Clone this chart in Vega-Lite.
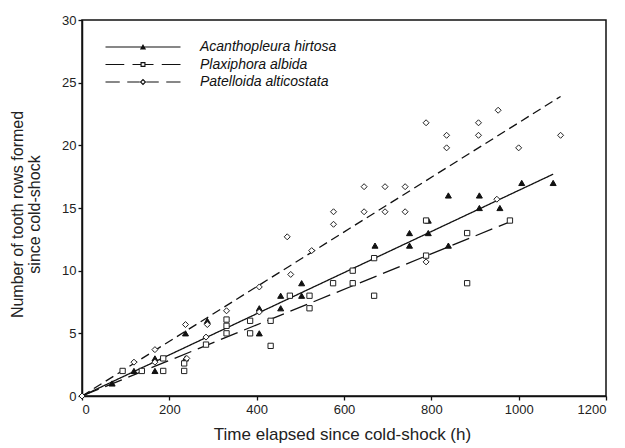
{
  "$schema": "https://vega.github.io/schema/vega-lite/v6.json",
  "width": 524,
  "height": 376,
  "autosize": {"type": "none"},
  "padding": {"left": 82, "top": 20, "right": 19, "bottom": 52},
  "background": "white",
  "config": {
    "font": "Liberation Sans",
    "view": {"stroke": "#111", "strokeWidth": 1.5},
    "axis": {
      "grid": false,
      "domainColor": "#111",
      "domainWidth": 1.5,
      "tickColor": "#111",
      "tickWidth": 1.3,
      "tickSize": 4,
      "labelFont": "Liberation Sans",
      "labelFontSize": 13,
      "labelColor": "#222",
      "titleFont": "Liberation Sans",
      "titleFontSize": 16,
      "titleFontWeight": "normal",
      "titleColor": "#222"
    }
  },
  "datasets": {
    "points": [
      {"species": "Acanthopleura hirtosa", "t": 69, "rows": 1},
      {"species": "Acanthopleura hirtosa", "t": 119, "rows": 2},
      {"species": "Acanthopleura hirtosa", "t": 167, "rows": 2},
      {"species": "Acanthopleura hirtosa", "t": 167, "rows": 3},
      {"species": "Acanthopleura hirtosa", "t": 237, "rows": 3},
      {"species": "Acanthopleura hirtosa", "t": 237, "rows": 5},
      {"species": "Acanthopleura hirtosa", "t": 287, "rows": 6},
      {"species": "Acanthopleura hirtosa", "t": 406, "rows": 5},
      {"species": "Acanthopleura hirtosa", "t": 406, "rows": 7},
      {"species": "Acanthopleura hirtosa", "t": 455, "rows": 7},
      {"species": "Acanthopleura hirtosa", "t": 455, "rows": 8},
      {"species": "Acanthopleura hirtosa", "t": 503, "rows": 8},
      {"species": "Acanthopleura hirtosa", "t": 503, "rows": 9},
      {"species": "Acanthopleura hirtosa", "t": 671, "rows": 12},
      {"species": "Acanthopleura hirtosa", "t": 750, "rows": 12},
      {"species": "Acanthopleura hirtosa", "t": 750, "rows": 13},
      {"species": "Acanthopleura hirtosa", "t": 793, "rows": 13},
      {"species": "Acanthopleura hirtosa", "t": 793, "rows": 14},
      {"species": "Acanthopleura hirtosa", "t": 839, "rows": 12},
      {"species": "Acanthopleura hirtosa", "t": 839, "rows": 16},
      {"species": "Acanthopleura hirtosa", "t": 910, "rows": 15},
      {"species": "Acanthopleura hirtosa", "t": 910, "rows": 16},
      {"species": "Acanthopleura hirtosa", "t": 957, "rows": 15},
      {"species": "Acanthopleura hirtosa", "t": 1007, "rows": 17},
      {"species": "Acanthopleura hirtosa", "t": 1079, "rows": 17},
      {"species": "Plaxiphora albida", "t": 93, "rows": 2},
      {"species": "Plaxiphora albida", "t": 137, "rows": 2},
      {"species": "Plaxiphora albida", "t": 186, "rows": 2},
      {"species": "Plaxiphora albida", "t": 186, "rows": 3},
      {"species": "Plaxiphora albida", "t": 234, "rows": 2},
      {"species": "Plaxiphora albida", "t": 234, "rows": 2.6},
      {"species": "Plaxiphora albida", "t": 284, "rows": 4.1},
      {"species": "Plaxiphora albida", "t": 331, "rows": 6.1},
      {"species": "Plaxiphora albida", "t": 331, "rows": 5.6},
      {"species": "Plaxiphora albida", "t": 331, "rows": 5},
      {"species": "Plaxiphora albida", "t": 385, "rows": 6},
      {"species": "Plaxiphora albida", "t": 385, "rows": 5},
      {"species": "Plaxiphora albida", "t": 432, "rows": 6},
      {"species": "Plaxiphora albida", "t": 432, "rows": 4},
      {"species": "Plaxiphora albida", "t": 476, "rows": 8},
      {"species": "Plaxiphora albida", "t": 521, "rows": 8},
      {"species": "Plaxiphora albida", "t": 521, "rows": 7},
      {"species": "Plaxiphora albida", "t": 575, "rows": 9},
      {"species": "Plaxiphora albida", "t": 620, "rows": 9},
      {"species": "Plaxiphora albida", "t": 620, "rows": 10},
      {"species": "Plaxiphora albida", "t": 669, "rows": 11},
      {"species": "Plaxiphora albida", "t": 669, "rows": 8},
      {"species": "Plaxiphora albida", "t": 788, "rows": 14},
      {"species": "Plaxiphora albida", "t": 788, "rows": 11.2},
      {"species": "Plaxiphora albida", "t": 882, "rows": 13},
      {"species": "Plaxiphora albida", "t": 882, "rows": 9},
      {"species": "Plaxiphora albida", "t": 980, "rows": 14},
      {"species": "Patelloida alticostata", "t": 0, "rows": 0},
      {"species": "Patelloida alticostata", "t": 119, "rows": 2.7},
      {"species": "Patelloida alticostata", "t": 167, "rows": 3.7},
      {"species": "Patelloida alticostata", "t": 167, "rows": 2.7},
      {"species": "Patelloida alticostata", "t": 237, "rows": 5.7},
      {"species": "Patelloida alticostata", "t": 240, "rows": 3},
      {"species": "Patelloida alticostata", "t": 287, "rows": 5.7},
      {"species": "Patelloida alticostata", "t": 284, "rows": 4.7},
      {"species": "Patelloida alticostata", "t": 331, "rows": 6.8},
      {"species": "Patelloida alticostata", "t": 406, "rows": 8.7},
      {"species": "Patelloida alticostata", "t": 406, "rows": 6.7},
      {"species": "Patelloida alticostata", "t": 470, "rows": 12.7},
      {"species": "Patelloida alticostata", "t": 478, "rows": 9.7},
      {"species": "Patelloida alticostata", "t": 526, "rows": 11.6},
      {"species": "Patelloida alticostata", "t": 576, "rows": 13.7},
      {"species": "Patelloida alticostata", "t": 576, "rows": 14.7},
      {"species": "Patelloida alticostata", "t": 646, "rows": 16.7},
      {"species": "Patelloida alticostata", "t": 646, "rows": 14.7},
      {"species": "Patelloida alticostata", "t": 694, "rows": 16.7},
      {"species": "Patelloida alticostata", "t": 694, "rows": 14.7},
      {"species": "Patelloida alticostata", "t": 740, "rows": 16.7},
      {"species": "Patelloida alticostata", "t": 740, "rows": 14.7},
      {"species": "Patelloida alticostata", "t": 788, "rows": 21.8},
      {"species": "Patelloida alticostata", "t": 788, "rows": 10.7},
      {"species": "Patelloida alticostata", "t": 835, "rows": 20.8},
      {"species": "Patelloida alticostata", "t": 835, "rows": 19.8},
      {"species": "Patelloida alticostata", "t": 908, "rows": 21.8},
      {"species": "Patelloida alticostata", "t": 908, "rows": 20.8},
      {"species": "Patelloida alticostata", "t": 953, "rows": 22.8},
      {"species": "Patelloida alticostata", "t": 950, "rows": 15.7},
      {"species": "Patelloida alticostata", "t": 1000, "rows": 19.8},
      {"species": "Patelloida alticostata", "t": 1096, "rows": 20.8}
    ],
    "fits": [
      {"species": "Acanthopleura hirtosa", "t": 0, "rows": 0},
      {"species": "Acanthopleura hirtosa", "t": 1079, "rows": 17.7},
      {"species": "Plaxiphora albida", "t": 0, "rows": 0},
      {"species": "Plaxiphora albida", "t": 980, "rows": 13.9},
      {"species": "Patelloida alticostata", "t": 0, "rows": 0},
      {"species": "Patelloida alticostata", "t": 1096, "rows": 23.9}
    ]
  },
  "encoding": {
    "x": {
      "field": "t", "type": "quantitative",
      "scale": {"domain": [0, 1200], "nice": false, "zero": false},
      "axis": {"values": [0, 200, 400, 600, 800, 1000, 1200], "format": "d", "title": "Time elapsed since cold-shock (h)", "titleFontSize": 17, "labelPadding": 3, "titleY": 30, "titleX": 260, "titleBaseline": "top"}
    },
    "y": {
      "field": "rows", "type": "quantitative",
      "scale": {"domain": [0, 30], "nice": false, "zero": false},
      "axis": {"values": [0, 5, 10, 15, 20, 25, 30], "title": ["Number of tooth rows formed", "since cold-shock"], "labelPadding": 2, "titleX": -57, "titleY": 194, "titleLineHeight": 17, "titleBaseline": "bottom"}
    }
  },
  "layer": [
    {
      "data": {"name": "points"},
      "mark": {"type": "point", "filled": true, "fill": "#111", "strokeWidth": 0, "opacity": 0},
      "encoding": {
        "shape": {
          "field": "species", "type": "nominal",
          "scale": {"domain": ["Acanthopleura hirtosa", "Plaxiphora albida", "Patelloida alticostata"], "range": [
            "M-7.5,-0.12H7.5V0.12H-7.5ZM0,-0.62L0.62,0.48L-0.62,0.48Z",
            "M-7.5,-0.12H-3.75V0.12H-7.5ZM-2.1,-0.12H-0.5V0.12H-2.1ZM0.5,-0.12H2.1V0.12H0.5ZM3.75,-0.12H7.5V0.12H3.75ZM-0.5,-0.5H0.5V0.5H-0.5ZM-0.27,-0.27V0.27H0.27V-0.27Z",
            "M-7.5,-0.12H-4.65V0.12H-7.5ZM-3.15,-0.12H-0.65V0.12H-3.15ZM0.65,-0.12H3.15V0.12H0.65ZM4.65,-0.12H7.5V0.12H4.65ZM0,-0.65L0.65,0L0,0.65L-0.65,0ZM0,-0.32L-0.32,0L0,0.32L0.32,0Z"
          ]},
          "legend": {"title": null, "orient": "none", "legendX": 23, "legendY": 20, "symbolSize": 100, "symbolOffset": 31, "symbolOpacity": 1, "symbolFillColor": "#111", "symbolStrokeWidth": 0, "rowPadding": 3.5, "labelOffset": 50, "labelFont": "Liberation Sans", "labelFontSize": 14, "labelFontStyle": "italic", "labelColor": "#111", "labelLimit": 300}
        }
      }
    },
    {
      "data": {"name": "fits"},
      "mark": {"type": "line", "color": "#111", "strokeWidth": 1.3},
      "encoding": {
        "detail": {"field": "species"},
        "strokeDash": {
          "field": "species", "type": "nominal",
          "scale": {"domain": ["Acanthopleura hirtosa", "Plaxiphora albida", "Patelloida alticostata"], "range": [[1, 0], [18, 7], [9, 5]]},
          "legend": null
        }
      }
    },
    {
      "data": {"name": "points"},
      "transform": [{"filter": "datum.species == 'Acanthopleura hirtosa'"}],
      "mark": {"type": "point", "shape": "triangle-up", "size": 36, "filled": true, "fill": "#111", "stroke": "#111", "strokeWidth": 1, "opacity": 1}
    },
    {
      "data": {"name": "points"},
      "transform": [{"filter": "datum.species == 'Plaxiphora albida'"}],
      "mark": {"type": "point", "shape": "square", "size": 28, "filled": true, "fill": "white", "stroke": "#222", "strokeWidth": 1, "opacity": 1}
    },
    {
      "data": {"name": "points"},
      "transform": [{"filter": "datum.species == 'Patelloida alticostata'"}],
      "mark": {"type": "point", "shape": "diamond", "size": 36, "filled": true, "fill": "white", "stroke": "#222", "strokeWidth": 1, "opacity": 1}
    }
  ]
}
